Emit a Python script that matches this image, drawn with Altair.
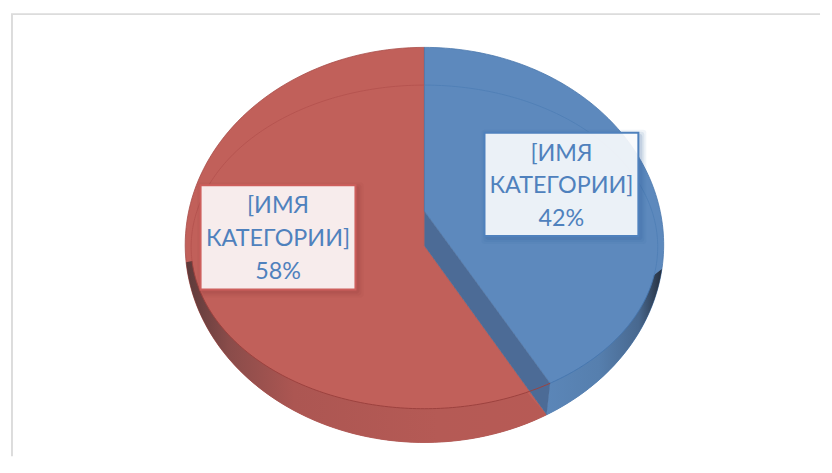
import altair as alt
import numpy as np
import pandas as pd

# --- chart content ---
categories = ["[ИМЯ КАТЕГОРИИ]", "[ИМЯ КАТЕГОРИИ]"]
shares = [42, 58]
label_lines = [["[ИМЯ", "КАТЕГОРИИ]", "42%"], ["[ИМЯ", "КАТЕГОРИИ]", "58%"]]

# --- perspective geometry (page pixels) ---
outer = dict(cx=424.5, cy=244, rx=241, ry=199)   # silhouette of the disc
inner = dict(cx=424.5, cy=246, rx=235, ry=163)   # rim of the top face
outer_split = 149.3   # boundary of the 42% slice on each ellipse, in projected degrees
inner_split = 147.4
wall_meet = 153.9
blue_apex = (424.5, 210)
red_apex = (424.5, 245)

sx = alt.Scale(domain=[8, 824], range=[0, 816], nice=False, zero=False)
sy = alt.Scale(domain=[8, 458], range=[0, 450], nice=False, zero=False)
X = alt.X("x:Q", scale=sx, axis=None)
Y = alt.Y("y:Q", scale=sy, axis=None)


def arc(e, a, b, n=120):
    t = np.radians(np.linspace(a, b, n))
    return list(zip(e["cx"] + e["rx"] * np.sin(t), e["cy"] - e["ry"] * np.cos(t)))


def frame(points):
    return pd.DataFrame({"x": [p[0] for p in points], "y": [p[1] for p in points],
                         "o": list(range(len(points)))})


def shape(points, **mark):
    return alt.Chart(frame(points)).mark_line(**mark).encode(x=X, y=Y, order="o:Q")


def poly(points, fill, stroke=None, sw=0.8):
    pts = points + [points[0]]
    kw = dict(fill=fill, strokeWidth=sw, stroke=stroke if stroke else "transparent")
    return shape(pts, **kw)


def grad(stops):
    return alt.Gradient(gradient="linear", x1=0, x2=1, y1=0, y2=0,
                        stops=[alt.GradientStop(offset=o, color=c) for o, c in stops])


RED, BLUE = "#c1605a", "#5d89bd"
red_body = poly([red_apex] + arc(outer, outer_split, 360), RED, "#a84d49")
blue_body = poly([(blue_apex[0], 45)] + arc(outer, 0, outer_split) + [arc(inner, inner_split, inner_split, 1)[0], blue_apex],
                 BLUE, "#4a78ad")
wall = poly([blue_apex, red_apex, arc(outer, outer_split, outer_split, 1)[0], arc(inner, inner_split, inner_split, 1)[0]],
            "#4c6b96")
band_red = poly(arc(inner, 265, wall_meet) + arc(outer, outer_split, 265),
                grad([(0, "#5d3a3a"), (0.12, "#8a4c4a"), (0.3, "#ac5652"), (0.7, "#b55a55"), (1, "#b75a55")]))
band_blue = poly(arc(inner, inner_split, 100) + arc(outer, 97, outer_split),
                 grad([(0, "#5b86b8"), (0.45, "#567fae"), (0.8, "#48688f"), (1, "#26303f")]))

rim_red = shape(arc(inner, wall_meet - 6.5, 265), stroke="#9c423e", strokeWidth=1)
rim_blue = shape(arc(inner, 100, inner_split), stroke="#4676ae", strokeWidth=1)
top_red = shape(arc(inner, 265, 360), stroke="#b55450", strokeWidth=1)
top_blue = shape(arc(inner, 0, 100), stroke="#5180b6", strokeWidth=1)

# --- frame ---
fx = [9, 9, 823]
fy = [457, 11.5, 11.5]
border = alt.Chart(pd.DataFrame({"x": fx, "y": fy, "o": [0, 1, 2]})).mark_line(
    stroke="#dcdcdc", strokeWidth=2).encode(x=X, y=Y, order="o:Q")

# --- data labels ---
box_left = [485, 199]
box_right = [640, 355]
box_top = [131, 184]
box_bottom = [235, 289]
line_y = [[152, 185, 218], [205, 238, 271]]
box_stroke = ["#4f81bd", "#cd5f5c"]
shadow = ["#2f5f9a", "#8f3a36"]

label_layers = []
for i, cat in enumerate(categories):
    for grow, op in [(7, 0.07), (5, 0.1), (3, 0.14)]:
        d = pd.DataFrame({"x": [box_left[i] + 4 - grow], "x2": [box_right[i] + 1 + grow],
                          "y": [box_top[i] + 4 - grow], "y2": [box_bottom[i] + 1 + grow]})
        label_layers.append(alt.Chart(d).mark_rect(fill=shadow[i], opacity=op, cornerRadius=3).encode(
            x=X, x2="x2:Q", y=Y, y2="y2:Q"))
    d = pd.DataFrame({"x": [box_left[i]], "x2": [box_right[i]], "y": [box_top[i]], "y2": [box_bottom[i]]})
    label_layers.append(alt.Chart(d).mark_rect(fill="white", fillOpacity=0.89, stroke=box_stroke[i],
                                               strokeWidth=2).encode(x=X, x2="x2:Q", y=Y, y2="y2:Q"))
    t = pd.DataFrame({"x": [(box_left[i] + box_right[i]) / 2] * 3, "y": line_y[i], "t": label_lines[i],
                      "category": [cat] * 3, "share": [shares[i]] * 3})
    label_layers.append(alt.Chart(t).mark_text(font="Lato", fontSize=23.5, color="#4f81bd", align="center",
                                               baseline="middle").encode(x=X, y=Y, text="t:N"))

chart = alt.layer(
    border, red_body, blue_body, band_red, band_blue, wall,
    top_red, top_blue, rim_blue, rim_red, *label_layers
).properties(
    width=816, height=450, padding=0, background="white"
).configure_view(stroke=None)

chart.save("out.html", embed_options={"renderer": "svg", "actions": False})
